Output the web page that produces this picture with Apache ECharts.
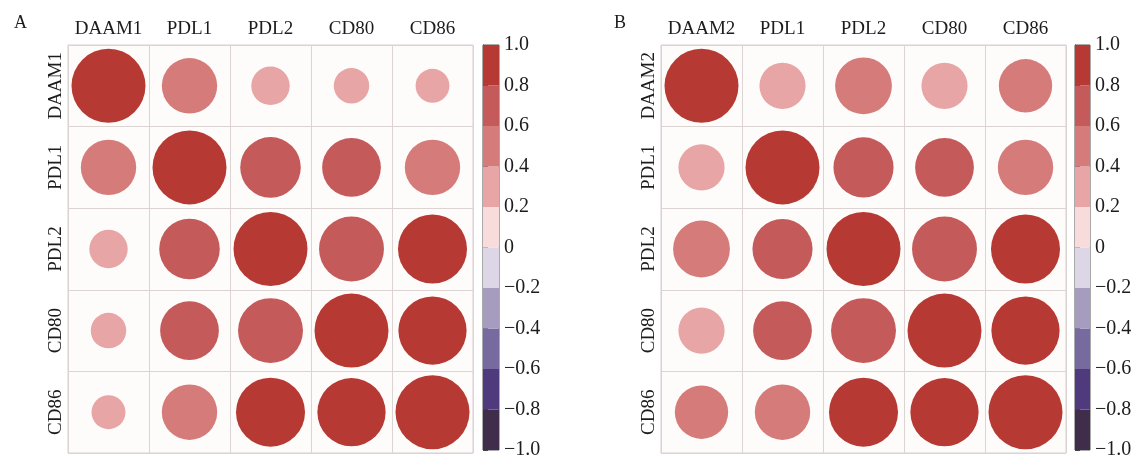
<!DOCTYPE html>
<html>
<head>
<meta charset="utf-8">
<script src="https://cdn.jsdelivr.net/npm/echarts@6/dist/echarts.min.js"></script>
<style>
  html, body { margin: 0; padding: 0; background: #fff; }
  #chart { width: 1136px; height: 460px; }
</style>
</head>
<body>
<div id="chart"></div>
<script>
// row / column names of the two panels
const namesA = ['DAAM1', 'PDL1', 'PDL2', 'CD80', 'CD86'];
const namesB = ['DAAM2', 'PDL1', 'PDL2', 'CD80', 'CD86'];

// correlation matrices (read from the circles)
const corrA = [
    [1.00, 0.56, 0.27, 0.23, 0.21],
    [0.56, 1.00, 0.67, 0.63, 0.56],
    [0.27, 0.67, 1.00, 0.77, 0.87],
    [0.23, 0.63, 0.77, 1.00, 0.85],
    [0.21, 0.56, 0.87, 0.85, 1.00]
];
const corrB = [
    [1.00, 0.39, 0.59, 0.39, 0.52],
    [0.39, 1.00, 0.66, 0.63, 0.56],
    [0.59, 0.66, 1.00, 0.77, 0.87],
    [0.39, 0.63, 0.77, 1.00, 0.85],
    [0.52, 0.56, 0.87, 0.85, 1.00]
];

// colour bins of the colour bar, from -1 up to 1
const binEdges = [-1.0, -0.8, -0.6, -0.4, -0.2, 0, 0.2, 0.4, 0.6, 0.8, 1.0];
const binColors = ['#402d4b', '#4f3a7e', '#766a9f', '#a69cc0', '#ddd6e6',
                   '#f8dbdb', '#e7a6a5', '#d57c7b', '#c45a59', '#b63a33'];

const serif = 'Liberation Serif';
const txt = '#1c1c1c';
const cellLine = '#dcd4d3';

function toPoints(m) {
    const out = [];
    m.forEach((row, r) => row.forEach((v, c) => out.push([c, r, v])));
    return out;
}

const binData = binColors.map((col, i) => [binEdges[i], binEdges[i + 1], i]);
const pieces = binColors.map((col, i) => ({gt: binEdges[i], lte: binEdges[i + 1], color: col}));
pieces[0].gte = -1; delete pieces[0].gt;

const myChart = echarts.init(document.getElementById('chart'));

function catX(names, gi) {
    return {
        type: 'category', gridIndex: gi, data: names, position: 'top',
        axisLine: {show: false}, axisTick: {show: false},
        splitLine: {show: true, lineStyle: {color: cellLine, width: 1}},
        axisLabel: {color: txt, fontFamily: serif, fontSize: 19, margin: 6, interval: 0}
    };
}
function catY(names, gi) {
    return {
        type: 'category', gridIndex: gi, data: names, inverse: true,
        axisLine: {show: false}, axisTick: {show: false},
        splitLine: {show: true, lineStyle: {color: cellLine, width: 1}},
        axisLabel: {color: txt, fontFamily: serif, fontSize: 19, margin: 2, rotate: 90, interval: 0}
    };
}
function barX(gi) {
    return {type: 'value', gridIndex: gi, min: 0, max: 1, show: false};
}
function barY(gi) {
    return {
        type: 'value', gridIndex: gi, min: -1, max: 1, interval: 0.2, position: 'right',
        splitLine: {show: false},
        axisLine: {show: true, lineStyle: {color: '#555', width: 1}},
        axisTick: {show: true, length: 5, lineStyle: {color: '#444'}},
        axisLabel: {
            color: txt, fontFamily: serif, fontSize: 20, margin: 5,
            formatter: function (v) {
                if (Math.abs(v) < 1e-9) return '0';
                return v.toFixed(1).replace('-', '\u2212');
            }
        }
    };
}

function renderBin(params, api) {
    const p1 = api.coord([0, api.value(1)]);
    const p2 = api.coord([1, api.value(0)]);
    return {
        type: 'rect',
        shape: {x: p1[0], y: p1[1], width: p2[0] - p1[0], height: p2[1] - p1[1]},
        style: {fill: binColors[api.value(2)]}
    };
}

const cellGrid = {show: true, backgroundColor: '#fefcfb', borderColor: '#d8cfce', borderWidth: 1};

const option = {
    backgroundColor: '#fff',
    animation: false,
    title: [
        {text: 'A', left: 9, top: 9, textStyle: {fontFamily: serif, fontSize: 18, fontWeight: 'normal', color: txt}},
        {text: 'B', left: 609, top: 9, textStyle: {fontFamily: serif, fontSize: 18, fontWeight: 'normal', color: txt}}
    ],
    grid: [
        Object.assign({left: 68, top: 45, width: 405, height: 408}, cellGrid),
        Object.assign({left: 661, top: 45, width: 405, height: 408}, cellGrid),
        {left: 483, top: 45, width: 16, height: 408, show: true, borderColor: '#555', borderWidth: 1},
        {left: 1075, top: 45, width: 15, height: 408, show: true, borderColor: '#555', borderWidth: 1}
    ],
    xAxis: [catX(namesA, 0), catX(namesB, 1), barX(2), barX(3)],
    yAxis: [catY(namesA, 0), catY(namesB, 1), barY(2), barY(3)],
    visualMap: {
        type: 'piecewise', show: false, dimension: 2, seriesIndex: [0, 1], pieces: pieces
    },
    series: [
        {
            type: 'scatter', xAxisIndex: 0, yAxisIndex: 0, data: toPoints(corrA),
            itemStyle: {opacity: 1},
            symbolSize: d => Math.sqrt(Math.abs(d[2])) * 74
        },
        {
            type: 'scatter', xAxisIndex: 1, yAxisIndex: 1, data: toPoints(corrB),
            itemStyle: {opacity: 1},
            symbolSize: d => Math.sqrt(Math.abs(d[2])) * 74
        },
        {type: 'custom', xAxisIndex: 2, yAxisIndex: 2, data: binData, renderItem: renderBin, silent: true, z: 1},
        {type: 'custom', xAxisIndex: 3, yAxisIndex: 3, data: binData, renderItem: renderBin, silent: true, z: 1}
    ]
};

option && myChart.setOption(option);
</script>
</body>
</html>
